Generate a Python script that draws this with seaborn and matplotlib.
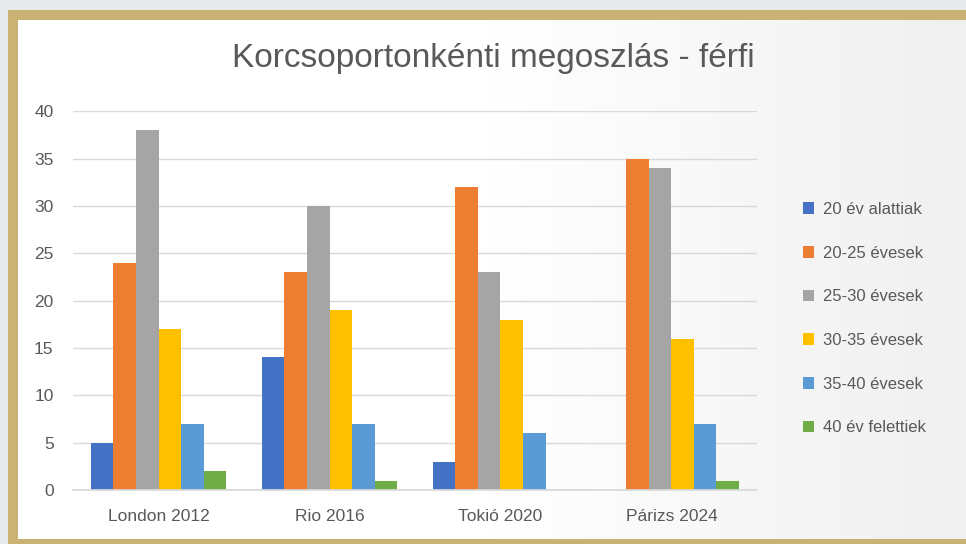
import numpy as np
import pandas as pd
import matplotlib
matplotlib.use("Agg")
import matplotlib.pyplot as plt
from matplotlib.patches import Rectangle
import seaborn as sns

# data
games = ["London 2012", "Rio 2016", "Tokió 2020", "Párizs 2024"]
groups = ["20 év alattiak", "20-25 évesek", "25-30 évesek",
          "30-35 évesek", "35-40 évesek", "40 év felettiek"]
under20 = [5, 14, 3, 0]
age20_25 = [24, 23, 32, 35]
age25_30 = [38, 30, 23, 34]
age30_35 = [17, 19, 18, 16]
age35_40 = [7, 7, 6, 7]
over40 = [2, 1, 0, 1]

colors = ["#4472C4", "#ED7D31", "#A5A5A5", "#FFC000", "#5B9BD5", "#70AD47"]

rows = []
for g, vals in zip(groups, [under20, age20_25, age25_30, age30_35, age35_40, over40]):
    for game, v in zip(games, vals):
        rows.append({"game": game, "group": g, "count": v})
df = pd.DataFrame(rows)

sns.set_theme(style="white")
plt.rcParams["font.family"] = ["Liberation Sans", "DejaVu Sans"]

fig = plt.figure(figsize=(9.66, 5.44), dpi=100)
fig.patch.set_facecolor("#e8e9eb")

# background: tan frame + white-to-grey gradient panel
bg = fig.add_axes([0, 0, 1, 1], zorder=0)
bg.axis("off")
bg.add_patch(Rectangle((8, 10), 970, 534, color="#c9b274", lw=0))
grad = np.linspace(0, 1, 256)[None, :]
bg.imshow(grad, cmap=matplotlib.colors.LinearSegmentedColormap.from_list(
    "g", ["#ffffff", "#ffffff", "#f0f0f0"]), extent=(18, 966, 539, 20),
    aspect="auto", zorder=2)
bg.set_xlim(0, 966)
bg.set_ylim(544, 0)

ax = fig.add_axes([0.0756, 0.0993, 0.708, 0.696], zorder=1)
ax.patch.set_alpha(0)
sns.barplot(data=df, x="game", y="count", hue="group", hue_order=groups,
            palette=colors, width=0.79, gap=0, linewidth=0, saturation=1,
            ax=ax, legend=True)

ax.set_ylim(0, 40)
ax.set_yticks(range(0, 41, 5))
ax.set_xlim(-0.5, 3.5)
ax.grid(axis="y", color="#d9d9d9", linewidth=1)
ax.set_axisbelow(True)
for s in ["top", "right", "left"]:
    ax.spines[s].set_visible(False)
ax.spines["bottom"].set_color("#d9d9d9")
ax.tick_params(axis="y", length=0, labelsize=12.5, labelcolor="#595959", pad=14)
ax.tick_params(axis="x", length=0, labelsize=12.5, labelcolor="#595959", pad=14)
ax.set_xlabel("")
ax.set_ylabel("")

leg = ax.legend(loc="upper left", bbox_to_anchor=(1.045, 0.80), frameon=False,
                fontsize=12, labelcolor="#595959", handlelength=0.7,
                handleheight=0.7, handletextpad=0.5, labelspacing=1.72)

fig.text(0.511, 0.893, "Korcsoportonkénti megoszlás - férfi", ha="center",
         va="center", fontsize=24, color="#595959",
         family=["Liberation Sans Narrow", "Liberation Sans", "DejaVu Sans"])

fig.savefig("out.png", dpi=100, facecolor=fig.get_facecolor())
